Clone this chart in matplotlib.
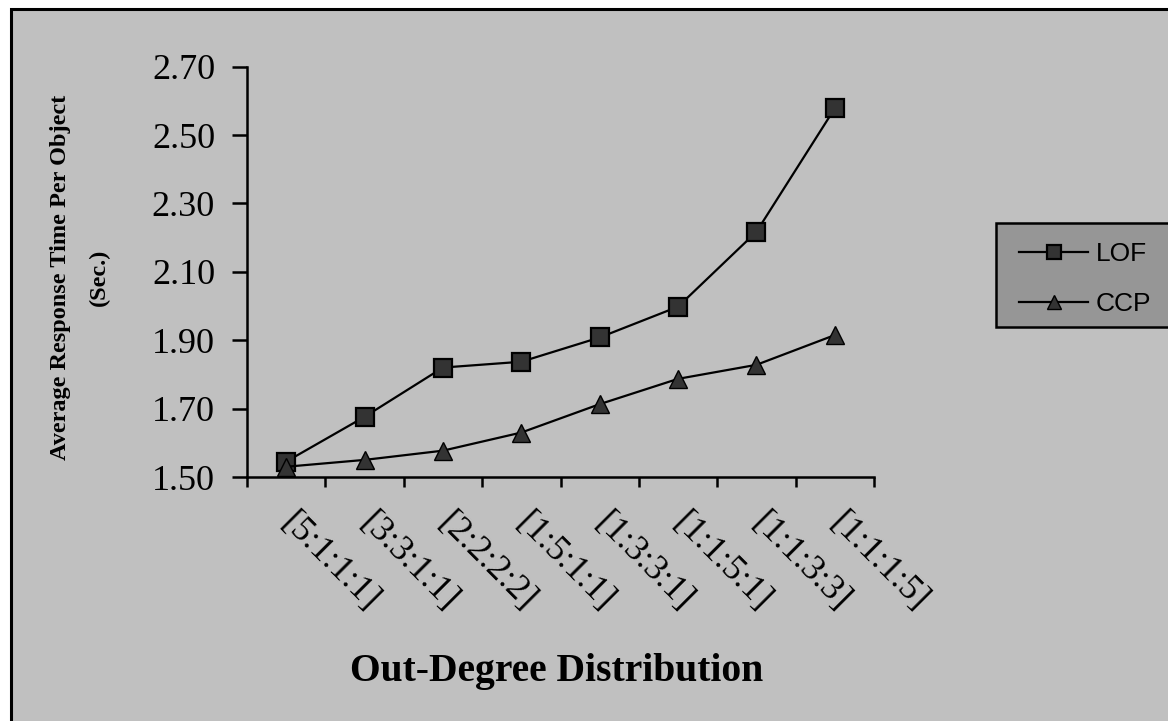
import matplotlib
matplotlib.use("Agg")
import matplotlib.pyplot as plt
from matplotlib.patches import Rectangle
from matplotlib.ticker import FixedLocator, NullFormatter, FixedFormatter

categories = ["[5:1:1:1]", "[3:3:1:1]", "[2:2:2:2]", "[1:5:1:1]",
              "[1:3:3:1]", "[1:1:5:1]", "[1:1:3:3]", "[1:1:1:5]"]
lof = [1.545, 1.676, 1.82, 1.837, 1.908, 1.998, 2.217, 2.578]
ccp = [1.53, 1.55, 1.577, 1.63, 1.713, 1.787, 1.828, 1.915]
yticks = [1.50, 1.70, 1.90, 2.10, 2.30, 2.50, 2.70]

BG = "#c0c0c0"
fig = plt.figure(figsize=(11.68, 7.21), dpi=100)
fig.patch.set_facecolor("white")
# gray chart area with black border (left/top visible, right/bottom cut)
fig.patches.append(Rectangle((11/1168, -0.01), 1.02, 1 - 9/721 + 0.01,
                             transform=fig.transFigure, facecolor=BG,
                             edgecolor="black", linewidth=2.2, zorder=-5))

ax = fig.add_axes([247/1168, 1 - 477/721, (874 - 247)/1168, (477 - 66.6)/721])
ax.set_zorder(2)
ax.patch.set_alpha(0)

x = [i + 0.5 for i in range(len(categories))]
l1, = ax.plot(x, lof, color="black", lw=1.6, marker="s", markersize=13.5,
              markerfacecolor="#333333", markeredgecolor="black", markeredgewidth=1.6,
              label="LOF", zorder=3)
l2, = ax.plot(x, ccp, color="black", lw=1.6, marker="^", markersize=13,
              markerfacecolor="#333333", markeredgecolor="black", markeredgewidth=1.0,
              label="CCP", zorder=3)

ax.set_xlim(0, len(categories))
ax.set_ylim(1.50, 2.70)
ax.set_yticks(yticks)
ax.set_yticklabels([f"{v:.2f}" for v in yticks])
ax.xaxis.set_major_locator(FixedLocator(list(range(len(categories) + 1))))
ax.xaxis.set_major_formatter(NullFormatter())
ax.xaxis.set_minor_locator(FixedLocator(x))
ax.xaxis.set_minor_formatter(FixedFormatter(categories))

for s in ["top", "right"]:
    ax.spines[s].set_visible(False)
for s in ["left", "bottom"]:
    ax.spines[s].set_linewidth(1.8)

serif = ["Liberation Serif", "DejaVu Serif"]
ax.tick_params(axis="y", which="major", length=11, width=1.8, pad=12,
               labelsize=26, direction="out")
ax.tick_params(axis="x", which="major", length=7, width=1.8, direction="out")
ax.tick_params(axis="x", which="minor", length=0, pad=30, labelsize=25.5)
for lab in ax.get_yticklabels():
    lab.set_fontfamily(serif)
for lab in ax.xaxis.get_minorticklabels():
    lab.set_fontfamily(serif)
    lab.set_rotation(-45)
    lab.set_rotation_mode("anchor")
    lab.set_ha("left")
    lab.set_va("center")

fig.text(80/1168, 1 - 277/721, "Average Response Time Per Object\n(Sec.)",
         rotation=90, ha="center", va="center", multialignment="center",
         fontsize=17.5, fontweight="bold", family=serif, linespacing=2.1)
fig.text(557/1168, 1 - 672/721, "Out-Degree Distribution",
         ha="center", va="center", fontsize=28.5, fontweight="bold", family=serif)

# legend box
fig.patches.append(Rectangle((996/1168, 1 - 327/721), 0.2, 104/721,
                             transform=fig.transFigure, facecolor="#969696",
                             edgecolor="black", linewidth=1.8, zorder=1))
leg = fig.legend(handles=[l1, l2], loc="center left",
                 bbox_to_anchor=(1006/1168, 1 - 279/721), frameon=False,
                 prop={"family": ["Liberation Sans"], "size": 19},
                 handlelength=2.6, handletextpad=0.3, labelspacing=1.0,
                 borderpad=0, markerscale=0.75)
leg.set_zorder(5)

fig.savefig("out.png", dpi=100, facecolor=fig.get_facecolor())
